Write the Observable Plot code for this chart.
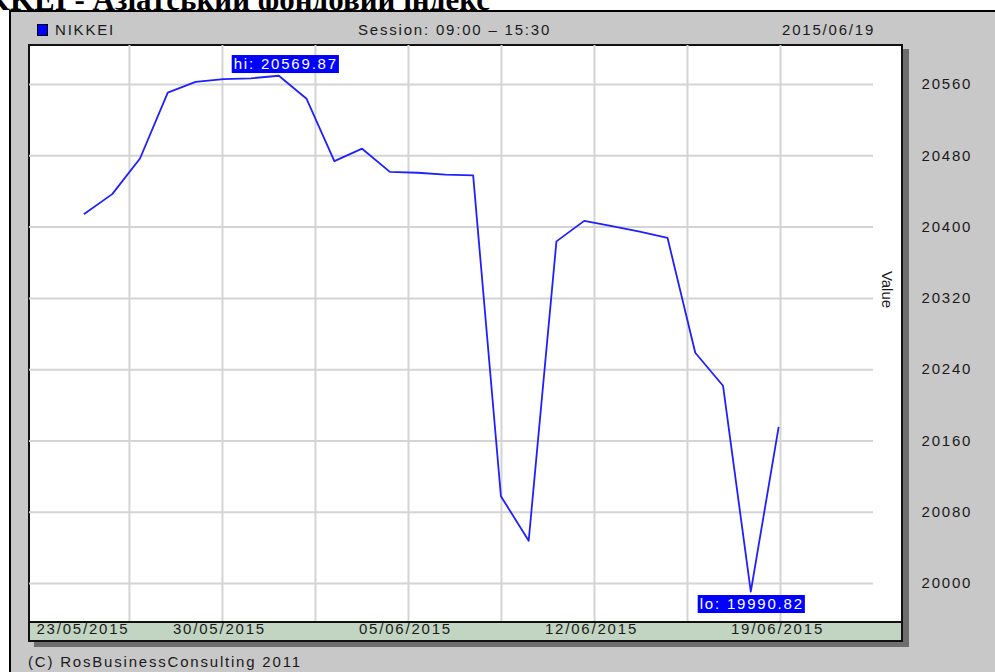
<!DOCTYPE html>
<html><head><meta charset="utf-8">
<script src="https://cdn.jsdelivr.net/npm/d3@7"></script>
<script src="https://cdn.jsdelivr.net/npm/@observablehq/plot@0.6"></script>
<style>
body{margin:0;width:995px;height:672px;overflow:hidden;background:#fff;position:relative;font-family:"Liberation Sans",Arial,sans-serif;}
.t{position:absolute;font-size:15px;line-height:15px;letter-spacing:1.8px;color:#1a1a1a;white-space:nowrap;}
#title{position:absolute;right:505px;top:-16px;font:bold 31px/31px "Liberation Serif","Times New Roman",serif;white-space:nowrap;color:#000;}
#panel{position:absolute;left:9px;top:10px;width:1000px;height:700px;background:#c8c8c8;border-left:2px solid #000;border-top:2px solid #000;}
#box{position:absolute;left:28px;top:44px;width:871px;height:575px;background:#fff;border:2px solid #111;box-shadow:6px 5px 0 #6e6e6e;}
#band{position:absolute;left:28px;top:621px;width:871px;height:17px;background:#c2d4c2;border:2px solid #111;box-shadow:6px 5px 0 #6e6e6e;}
#sq{position:absolute;left:37px;top:24px;width:9px;height:10px;background:#0000ff;border:1px solid #000;}
#chart{position:absolute;left:0;top:0;}
</style></head>
<body>
<div id="title">NIKKEI - Азіатський фондовий індекс</div>
<div id="panel"></div>
<div id="sq"></div>
<div class="t" style="left:55px;top:22px">NIKKEI</div>
<div class="t" style="left:358px;top:22px">Session: 09:00 – 15:30</div>
<div class="t" style="left:782px;top:22px">2015/06/19</div>
<div id="box"></div>
<div id="band"></div>
<div class="t" style="left:28px;top:654px">(C) RosBusinessConsulting 2011</div>
<div id="chart"></div>
<script>
// Data (one point per session step, index order)
const values = [20415, 20437, 20477, 20551, 20563, 20566, 20567, 20569.87, 20544, 20474,
                20488, 20462, 20461, 20459, 20458, 20098, 20048, 20384, 20407, 20401,
                20395, 20388, 20259, 20222, 19990.82, 20175];
const yTicks = [20000, 20080, 20160, 20240, 20320, 20400, 20480, 20560];
const gridX = [1.62, 4.97, 8.32, 11.67, 15.02, 18.37, 21.72, 25.07];
const xTickPos = [-1.73, 4.97, 11.67, 18.37, 25.07];
const xTickLabels = ["23/05/2015", "30/05/2015", "05/06/2015", "12/06/2015", "19/06/2015"];
const hiLabel = "hi: 20569.87";
const loLabel = "lo: 19990.82";

const data = values.map((v, i) => ({i, v}));
const hiPt = data.reduce((a, b) => b.v > a.v ? b : a);
const loPt = data.reduce((a, b) => b.v < a.v ? b : a);

const first = [{x: xTickPos[0], t: xTickLabels[0]}];
const rest = xTickPos.slice(1).map((x, k) => ({x, t: xTickLabels[k + 1]}));

const chart = Plot.plot({
  width: 995,
  height: 672,
  marginLeft: 29,
  marginRight: 122,
  marginTop: 45,
  marginBottom: 51,
  x: {domain: [-1.98, 28.42], axis: null},
  y: {domain: [19957.4, 20603.8], axis: null},
  style: {fontFamily: "'Liberation Sans', Arial, sans-serif", fontSize: "15px", letterSpacing: "1.8px", color: "#1a1a1a", background: "transparent", overflow: "visible"},
  marks: [
    Plot.ruleX(gridX, {stroke: "#d4d4d4", strokeWidth: 2}),
    Plot.ruleY(yTicks, {stroke: "#d4d4d4", strokeWidth: 2}),
    Plot.line(data, {x: "i", y: "v", stroke: "#2020ff", strokeWidth: 1.8}),
    Plot.axisY(yTicks, {anchor: "right", tickSize: 0, tickPadding: 48, fontSize: 15, label: null, tickFormat: d3.format("d"), fill: "#1a1a1a"}),
    Plot.text(["Value"], {frameAnchor: "right", dx: 13, dy: -44, rotate: 90, textAnchor: "middle", fontSize: 15, fill: "#1a1a1a"}),
    Plot.text(first, {x: "x", text: "t", frameAnchor: "bottom", dy: 12, textAnchor: "start", fontSize: 15, fill: "#1a1a1a"}),
    Plot.text(rest, {x: "x", text: "t", frameAnchor: "bottom", dy: 12, dx: -3, textAnchor: "middle", fontSize: 15, fill: "#1a1a1a"}),
    Plot.text([{...hiPt, t: hiLabel}], {x: "i", y: "v", text: "t", dx: 7, dy: -12, fill: "white", fontSize: 15}),
    Plot.text([{...loPt, t: loLabel}], {x: "i", y: "v", text: "t", dx: 1, dy: 12, fill: "white", fontSize: 15})
  ]
});
document.getElementById("chart").appendChild(chart);
chart.querySelectorAll("text").forEach(t => {
  const s = t.textContent;
  if (s === "Value") t.style.letterSpacing = "0px";
  if (s === hiLabel || s === loLabel) {
    const b = t.getBBox();
    const r = document.createElementNS("http://www.w3.org/2000/svg", "rect");
    r.setAttribute("x", b.x - 2);
    r.setAttribute("y", b.y + 0.5);
    r.setAttribute("width", b.width + 3);
    r.setAttribute("height", b.height + 1);
    r.setAttribute("fill", "#0000ff");
    if (t.getAttribute("transform")) r.setAttribute("transform", t.getAttribute("transform"));
    t.parentNode.insertBefore(r, t);
  }
});
</script>
</body></html>
